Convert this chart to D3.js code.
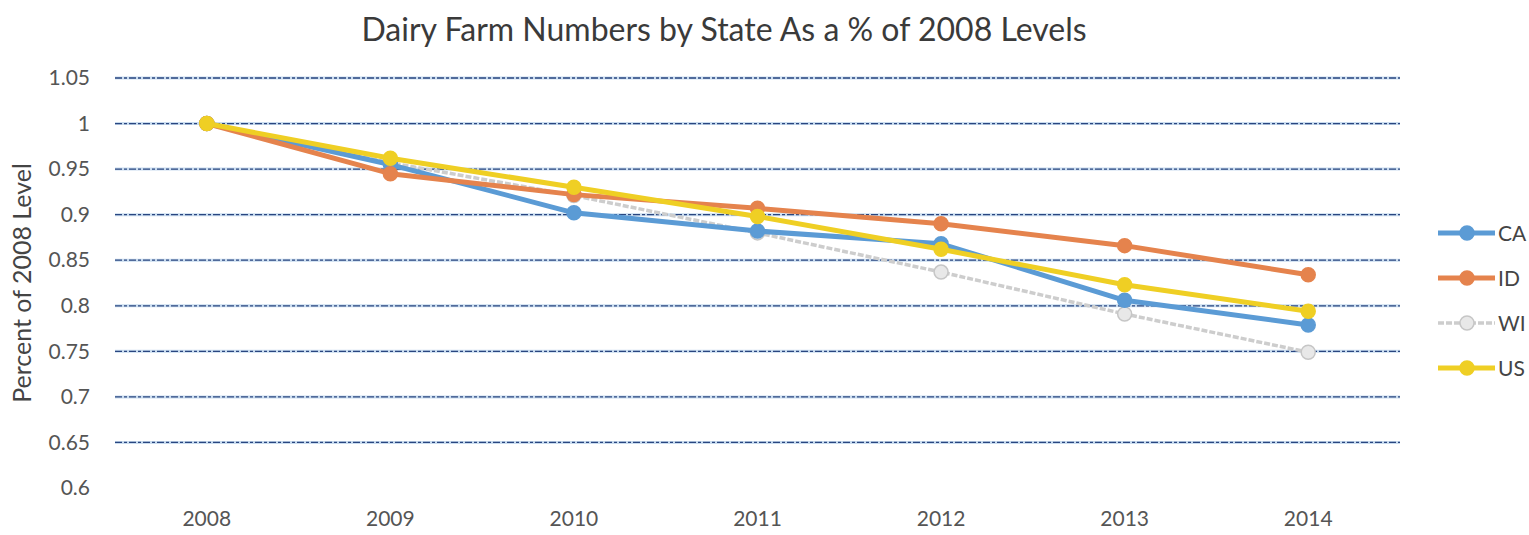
<!DOCTYPE html>
<html>
<head>
<meta charset="utf-8">
<script src="https://cdn.jsdelivr.net/npm/d3@7"></script>
<style>
  html, body { margin: 0; padding: 0; background: #fff; }
  svg { display: block; }
  text { font-family: Lato, "Open Sans", sans-serif; }
</style>
</head>
<body>
<svg id="chart" width="1529" height="535"></svg>
<script>
// Dairy farm counts relative to 2008 (2008 = 1)
const years = ["2008", "2009", "2010", "2011", "2012", "2013", "2014"];
const seriesNames = ["CA", "ID", "WI", "US"];
const caValues = [1.000, 0.955, 0.902, 0.882, 0.868, 0.806, 0.779];
const idValues = [1.000, 0.945, 0.922, 0.907, 0.890, 0.866, 0.834];
const wiValues = [1.000, 0.957, 0.921, 0.880, 0.837, 0.791, 0.749];
const usValues = [1.000, 0.962, 0.930, 0.898, 0.862, 0.823, 0.794];
const yTicks = [0.6, 0.65, 0.7, 0.75, 0.8, 0.85, 0.9, 0.95, 1, 1.05];
const titleText = "Dairy Farm Numbers by State As a % of 2008 Levels";
const yAxisTitle = "Percent of 2008 Level";

const colors = { CA: "#5b9bd5", ID: "#e5834d", WI: "#cdcdcd", US: "#efcf24" };
const seriesData = [
  { name: "CA", values: caValues },
  { name: "ID", values: idValues },
  { name: "WI", values: wiValues },
  { name: "US", values: usValues }
];

const svg = d3.select("#chart");
const plot = { left: 115, right: 1400, top: 78, bottom: 488 };

const x = d3.scaleBand().domain(years).range([plot.left, plot.right]);
const y = d3.scaleLinear().domain([0.6, 1.05]).range([plot.bottom, plot.top]);

// Title
svg.append("text")
  .attr("x", 724).attr("y", 41)
  .attr("text-anchor", "middle")
  .attr("font-size", 32)
  .attr("fill", "#3a3a3a")
  .text(titleText);

// Horizontal gridlines (no line drawn at the axis minimum)
const grid = svg.append("g");
const gridVals = yTicks.filter(v => v > 0.6);
grid.selectAll("line.halo").data(gridVals).join("line")
  .attr("class", "halo")
  .attr("x1", plot.left).attr("x2", plot.right)
  .attr("y1", d => y(d)).attr("y2", d => y(d))
  .attr("stroke", "#c9dcef").attr("stroke-width", 3);
grid.selectAll("line.core").data(gridVals).join("line")
  .attr("class", "core")
  .attr("x1", plot.left).attr("x2", plot.right)
  .attr("y1", d => y(d)).attr("y2", d => y(d))
  .attr("stroke", "#2a4680").attr("stroke-width", 1.3)
  .attr("stroke-dasharray", "7,2,3,2");

// Y axis labels
const yAxis = d3.axisLeft(y).tickValues(yTicks).tickSize(0).tickPadding(0)
  .tickFormat(d => d3.format("")(+d.toFixed(2)));
const gy = svg.append("g").attr("transform", `translate(90,0)`).call(yAxis);
gy.select(".domain").remove();
gy.selectAll("text").attr("font-size", 21).attr("fill", "#555")
  .attr("font-family", "Lato, 'Open Sans', sans-serif");

// X axis labels
const xAxis = d3.axisBottom(x).tickSize(0).tickPadding(0);
const gx = svg.append("g").attr("transform", `translate(0,511)`).call(xAxis);
gx.select(".domain").remove();
gx.selectAll("text").attr("font-size", 21).attr("fill", "#555")
  .attr("font-family", "Lato, 'Open Sans', sans-serif");

// Y axis title
svg.append("text")
  .attr("transform", `translate(31,${(plot.top + plot.bottom) / 2}) rotate(-90)`)
  .attr("text-anchor", "middle")
  .attr("font-size", 25)
  .attr("fill", "#444")
  .text(yAxisTitle);

// Lines and markers
const line = d3.line()
  .x((d, i) => x(years[i]) + x.bandwidth() / 2)
  .y(d => y(d));

const order = ["WI", "CA", "ID", "US"];
order.forEach(name => {
  const s = seriesData.find(d => d.name === name);
  const g = svg.append("g");
  g.append("path")
    .datum(s.values)
    .attr("fill", "none")
    .attr("stroke", colors[name])
    .attr("stroke-width", name === "WI" ? 3.5 : 5)
    .attr("stroke-linejoin", "round")
    .attr("stroke-dasharray", name === "WI" ? "6,2" : null)
    .attr("d", line);
  g.selectAll("circle").data(s.values).join("circle")
    .attr("cx", (d, i) => x(years[i]) + x.bandwidth() / 2)
    .attr("cy", d => y(d))
    .attr("r", 7)
    .attr("fill", name === "WI" ? "#e8e8e8" : colors[name])
    .attr("stroke", name === "WI" ? "#c6c6c6" : colors[name])
    .attr("stroke-width", 1.5);
});

// Legend
const legend = svg.append("g");
const legY = d3.scalePoint().domain(seriesNames).range([233, 368]);
seriesNames.forEach(name => {
  const ly = legY(name);
  legend.append("line")
    .attr("x1", 1438).attr("x2", 1495).attr("y1", ly).attr("y2", ly)
    .attr("stroke", colors[name]).attr("stroke-width", name === "WI" ? 3.5 : 5)
    .attr("stroke-dasharray", name === "WI" ? "6,2" : null);
  legend.append("circle")
    .attr("cx", 1467).attr("cy", ly).attr("r", 7)
    .attr("fill", name === "WI" ? "#e8e8e8" : colors[name])
    .attr("stroke", name === "WI" ? "#c6c6c6" : colors[name])
    .attr("stroke-width", 1.5);
  legend.append("text")
    .attr("x", 1498).attr("y", ly).attr("dy", "0.36em")
    .attr("font-size", 21).attr("fill", "#444")
    .text(name);
});
</script>
</body>
</html>
